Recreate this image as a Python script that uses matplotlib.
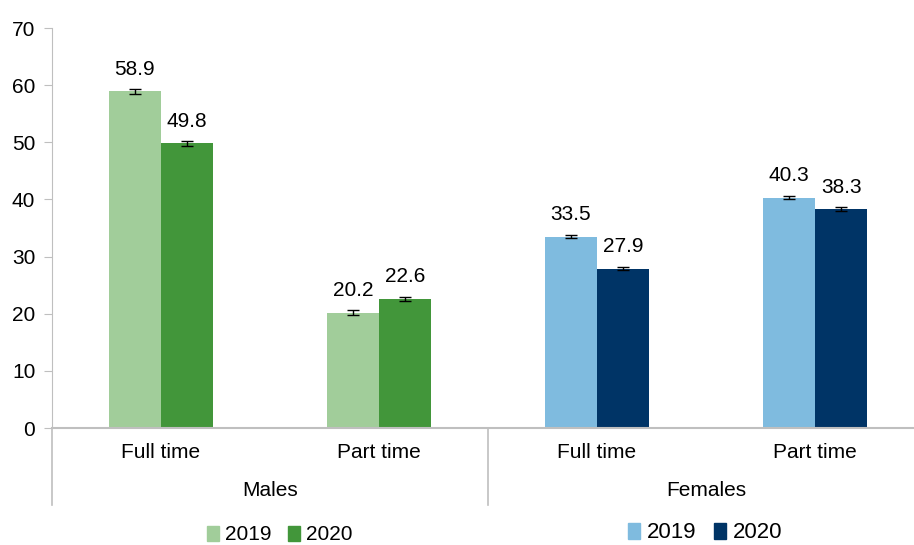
import matplotlib.pyplot as plt
from matplotlib.patches import Patch
import numpy as np

plt.rcParams['font.family'] = ['Liberation Sans', 'DejaVu Sans']

categories = ['Full time', 'Part time', 'Full time', 'Part time']
groups = ['Males', 'Females']
vals_2019 = [58.9, 20.2, 33.5, 40.3]
vals_2020 = [49.8, 22.6, 27.9, 38.3]
err_2019 = [0.4, 0.4, 0.3, 0.3]
err_2020 = [0.4, 0.4, 0.3, 0.4]

c19 = ['#a1cd9a', '#a1cd9a', '#7fbbdf', '#7fbbdf']
c20 = ['#42963a', '#42963a', '#003466', '#003466']

fig = plt.figure(figsize=(9.14, 5.45), dpi=100)
ax = fig.add_axes([52/914, 117/545, 862/914, 400/545])

x = np.arange(len(categories))
w = 0.24
ax.bar(x - w/2, vals_2019, w, color=c19, yerr=err_2019, capsize=4.5,
       error_kw=dict(elinewidth=1, capthick=1, ecolor='black'))
ax.bar(x + w/2, vals_2020, w, color=c20, yerr=err_2020, capsize=4.5,
       error_kw=dict(elinewidth=1, capthick=1, ecolor='black'))

for xi, v in zip(x - w/2, vals_2019):
    ax.text(xi, v + 2.9, f'{v:.1f}', ha='center', va='baseline', fontsize=15)
for xi, v in zip(x + w/2, vals_2020):
    ax.text(xi, v + 2.9, f'{v:.1f}', ha='center', va='baseline', fontsize=15)

ax.set_xlim(-0.5, 3.5 - 10/218)
ax.set_ylim(0, 70)
ax.set_yticks(range(0, 71, 10))
ax.tick_params(axis='y', labelsize=15, length=6, color='#bfbfbf', pad=6)
ax.set_xticks([])
for s in ['top', 'right']:
    ax.spines[s].set_visible(False)
ax.spines['left'].set_color('#bfbfbf')
ax.spines['bottom'].set_color('#bfbfbf')
ax.spines['bottom'].set_linewidth(1.5)

for xi, lab in zip(x, categories):
    ax.text(xi, -4.2, lab, ha='center', va='center', fontsize=15)
for gi, g in enumerate(groups):
    ax.text(0.5 + 2*gi, -10.9, g, ha='center', va='center', fontsize=15)
for xs in [-0.5, 1.5]:
    ax.plot([xs, xs], [0, -13.5], color='#bfbfbf', lw=1.2, clip_on=False)

h1 = [Patch(color=c19[0]), Patch(color=c20[0])]
fig.legend(h1, ['2019', '2020'], loc='center', bbox_to_anchor=(280/914, 1 - 535/545),
           ncol=2, frameon=False, fontsize=15, handlelength=0.55, handleheight=0.7,
           handletextpad=0.3, columnspacing=0.8, borderpad=0.1)
h2 = [Patch(color=c19[2]), Patch(color=c20[2])]
fig.legend(h2, ['2019', '2020'], loc='center', bbox_to_anchor=(705/914, 1 - 533/545),
           ncol=2, frameon=False, fontsize=16, handlelength=0.55, handleheight=0.7,
           handletextpad=0.3, columnspacing=0.8, borderpad=0.1)

fig.savefig('out.png', dpi=100)
